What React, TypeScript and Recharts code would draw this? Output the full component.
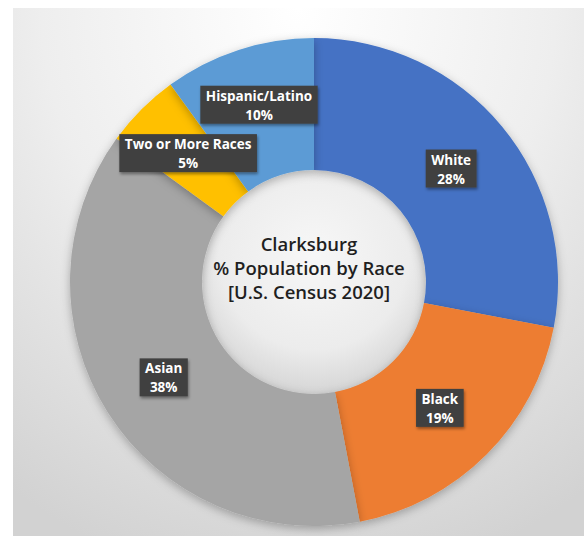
import React from "react";
import { PieChart, Pie, Cell } from "recharts";

const categories = ["White", "Black", "Asian", "Two or More Races", "Hispanic/Latino"];
const shares = [28, 19, 38, 5, 10];
const colors = ["#4472C4", "#ED7D31", "#A5A5A5", "#FFC000", "#5B9BD5"];
const titleLines = ["Clarksburg", "% Population by Race", "[U.S. Census 2020]"];

const data = categories.map((name, i) => ({ name, value: shares[i] }));
const hole = [{ name: "hole", value: 1 }];

const RAD = Math.PI / 180;
const LABEL_FONT = "bold 13.5px 'Open Sans'";

let ctx: CanvasRenderingContext2D | null = null;
function textWidth(s: string) {
  if (!ctx) ctx = document.createElement("canvas").getContext("2d");
  if (!ctx) return s.length * 7.4;
  ctx.font = LABEL_FONT;
  return ctx.measureText(s).width;
}

// Excel nudged the small top-left label up a bit to avoid crowding
const nudgeY: Record<string, number> = { "Hispanic/Latino": -8, "Two or More Races": -3 };

const renderLabel = (p: any) => {
  const { cx, cy, midAngle, innerRadius, outerRadius, name, value } = p;
  const r = (innerRadius + outerRadius) / 2;
  const x = cx + r * Math.cos(-midAngle * RAD);
  const y = cy + r * Math.sin(-midAngle * RAD) + (nudgeY[name] || 0);
  const pct = `${value}%`;
  const w = Math.max(textWidth(name), textWidth(pct)) + 11;
  const h = 38;
  return (
    <g>
      <rect x={x - w / 2} y={y - h / 2} width={w} height={h} fill="#404040" filter="url(#boxShadow)" />
      <text x={x} y={y - 9} textAnchor="middle" dominantBaseline="central" fill="#fff"
        style={{ font: LABEL_FONT }}>{name}</text>
      <text x={x} y={y + 10} textAnchor="middle" dominantBaseline="central" fill="#fff"
        style={{ font: LABEL_FONT }}>{pct}</text>
    </g>
  );
};

export default function App() {
  const cx = 309;
  const cy = 277;
  return (
    <div style={{ position: "absolute", left: 0, top: 0, width: 584, height: 536, background: "#fff" }}>
      <svg width={0} height={0} style={{ position: "absolute" }}>
        <defs>
          <radialGradient id="holeGrad" cx="50%" cy="38%" r="65%">
            <stop offset="0%" stopColor="#f7f7f7" />
            <stop offset="65%" stopColor="#ececec" />
            <stop offset="100%" stopColor="#d2d2d2" />
          </radialGradient>
          <filter id="ringShadow" x="-20%" y="-20%" width="140%" height="140%">
            <feDropShadow dx="0" dy="3" stdDeviation="5" floodColor="#000" floodOpacity="0.28" />
          </filter>
          <filter id="boxShadow" x="-20%" y="-20%" width="140%" height="150%">
            <feDropShadow dx="1" dy="2" stdDeviation="1.5" floodColor="#000" floodOpacity="0.4" />
          </filter>
        </defs>
      </svg>
      <div style={{
        position: "absolute", left: 13, top: 8, width: 571, height: 528,
        background: "radial-gradient(ellipse 90% 110% at 50% 0%, #ffffff 0%, #eeeeee 50%, #d2d2d2 100%)",
      }} />
      <div style={{ position: "absolute", left: 0, top: 0 }}>
        <PieChart width={584} height={536}>
          <Pie data={hole} dataKey="value" cx={cx} cy={cy} innerRadius={0} outerRadius={112}
            stroke="none" isAnimationActive={false}>
            <Cell fill="url(#holeGrad)" filter="url(#ringShadow)" />
          </Pie>
          <Pie data={data} dataKey="value" nameKey="name" cx={cx} cy={cy}
            innerRadius={112} outerRadius={244} startAngle={90} endAngle={-270}
            stroke="none" labelLine={false} label={renderLabel} isAnimationActive={false}>
            {data.map((d, i) => (
              <Cell key={d.name} fill={colors[i]} filter="url(#ringShadow)" />
            ))}
          </Pie>
        </PieChart>
      </div>
      <svg width={584} height={536} style={{ position: "absolute", left: 0, top: 0, pointerEvents: "none" }}>
        <text x={cx} y={cy} textAnchor="middle" fill="#1f1f1f"
          style={{ fontFamily: "'Open Sans'", fontSize: 18.5, fontWeight: 600 }}>
          {titleLines.map((t, i) => (
            <tspan key={t} x={cx} y={cy - 34 + i * 24} dominantBaseline="central">{t}</tspan>
          ))}
        </text>
      </svg>
    </div>
  );
}
